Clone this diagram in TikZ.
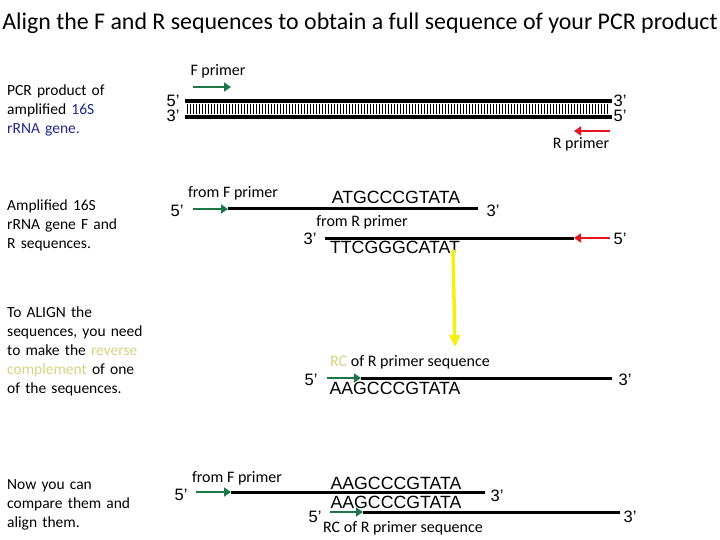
\documentclass[tikz,border=0pt]{standalone}
\usepackage{fontspec}
\setmainfont{Carlito}
\newfontfamily\arialf{Liberation Sans}
\usetikzlibrary{arrows.meta}
\definecolor{dgreen}{RGB}{28,118,72}
\definecolor{rred}{RGB}{230,20,28}
\definecolor{navy}{RGB}{32,40,140}
\definecolor{khaki}{RGB}{214,210,128}
\definecolor{yel}{RGB}{245,240,20}
\tikzset{
  lefttxt/.style={anchor=base west,inner sep=0pt,text width=170pt,align=left,font=\fontsize{15.5}{19}\selectfont},
  small/.style={anchor=base,inner sep=0pt,font=\fontsize{16}{18}\selectfont},
  seq/.style={anchor=base,inner sep=0pt,font=\arialf\fontsize{17.7}{20}\selectfont},
  endl/.style={anchor=base,inner sep=0pt,font=\arialf\fontsize{16.5}{18}\selectfont},
  strand/.style={line width=3pt},
  garrow/.style={line width=2.5pt,dgreen,-{Triangle[length=7pt,width=9pt]}},
  rarrow/.style={line width=2.5pt,rred,-{Triangle[length=7pt,width=9pt]}},
}
\begin{document}
\begin{tikzpicture}[x=1pt,y=-1pt]
\useasboundingbox (0,0) rectangle (720,540);
% title
\node[anchor=base,inner sep=0pt,font=\fontsize{23.9}{26}\selectfont] (title) at (360,30) {Align the F and R sequences to obtain a full sequence of your PCR product};
% left texts
\node[lefttxt] (t1) at (7,96) {PCR product of\\amplified \textcolor{navy}{16S}\\\textcolor{navy}{rRNA gene.}};
\node[lefttxt] (t2) at (7,211) {Amplified 16S\\rRNA gene F and\\R sequences.};
\node[lefttxt] (t3) at (7,317) {To ALIGN the\\sequences, you need\\to make the \textcolor{khaki}{reverse}\\\textcolor{khaki}{complement} of one\\of the sequences.};
\node[lefttxt] (t4) at (7,489) {Now you can\\compare them and\\align them.};
% ---- top double strand
\node[small] (fp) at (218,76) {F primer};
\node[small] (rp) at (581,149) {R primer};
\node[endl] (a5) at (173,107) {5’};
\node[endl] (a3) at (173,122) {3’};
\node[endl] (b3) at (620,107) {3’};
\node[endl] (b5) at (620,122) {5’};
\coordinate (tl) at (185,101); \coordinate (tr) at (612,101);
\coordinate (bl) at (185,117); \coordinate (br) at (612,117);
\draw[line width=3.5pt] (tl) -- (tr);
\draw[line width=3.5pt] (bl) -- (br);
\foreach \x in {187,190,...,608} \draw[line width=0.7pt] (\x,104) -- (\x,114);
\coordinate (g1s) at (193,87); \coordinate (g1e) at (231,87);
\draw[garrow] (g1s) -- (g1e);
\coordinate (r1s) at (610,131); \coordinate (r1e) at (574,131);
\draw[rarrow] (r1s) -- (r1e);
% ---- section 2
\node[small] (ff1) at (233,197) {from F primer};
\node[seq] (s1) at (396,204) {ATGCCCGTATA};
\node[endl] (c5) at (177,217) {5’};
\node[endl] (c3) at (493,217) {3’};
\coordinate (g2s) at (193,209); \coordinate (g2e) at (228,209); \coordinate (l2e) at (478,209);
\draw[strand] (g2e) -- (l2e);
\draw[garrow] (g2s) -- (g2e);
\node[small] (fr1) at (362,226) {from R primer};
\node[endl] (d3) at (310,244) {3’};
\node[endl] (d5) at (620,244) {5’};
\node[seq] (s2) at (395,254) {TTCGGGCATAT};
\coordinate (l3s) at (325,238); \coordinate (r2e) at (574,238); \coordinate (r2s) at (610,238);
\draw[strand] (l3s) -- (r2e);
\draw[rarrow] (r2s) -- (r2e);
% yellow arrow
\coordinate (ys) at (453,250); \coordinate (ye) at (455,347);
\draw[yel,line width=3.5pt,-{Triangle[length=12pt,width=11pt]}] (ys) -- (ye);
% ---- section 3
\node[small] (rc1) at (410,366) {\textcolor{khaki}{RC} of R primer sequence};
\node[endl] (e5) at (311,385) {5’};
\node[endl] (e3) at (625,385) {3’};
\node[seq] (s3) at (395,394) {AAGCCCGTATA};
\coordinate (g3s) at (327,378); \coordinate (g3e) at (361,378); \coordinate (l4e) at (612,378);
\draw[strand] (g3e) -- (l4e);
\draw[garrow] (g3s) -- (g3e);
% ---- section 4
\node[small] (ff2) at (237,482) {from F primer};
\node[seq] (s4) at (396,489) {AAGCCCGTATA};
\node[endl] (f5) at (181,500) {5’};
\node[endl] (f3) at (497,501) {3’};
\coordinate (g4s) at (196,492); \coordinate (g4e) at (231,492); \coordinate (l5e) at (485,492);
\draw[strand] (g4e) -- (l5e);
\draw[garrow] (g4s) -- (g4e);
\node[seq] (s5) at (396,508) {AAGCCCGTATA};
\node[endl] (h5) at (315,522) {5’};
\node[endl] (h3) at (630,522) {3’};
\coordinate (g5s) at (330,512); \coordinate (g5e) at (363,512); \coordinate (l6e) at (620,512);
\draw[strand] (g5e) -- (l6e);
\draw[garrow] (g5s) -- (g5e);
\node[small] (rc2) at (403,532) {RC of R primer sequence};
\end{tikzpicture}
\end{document}
